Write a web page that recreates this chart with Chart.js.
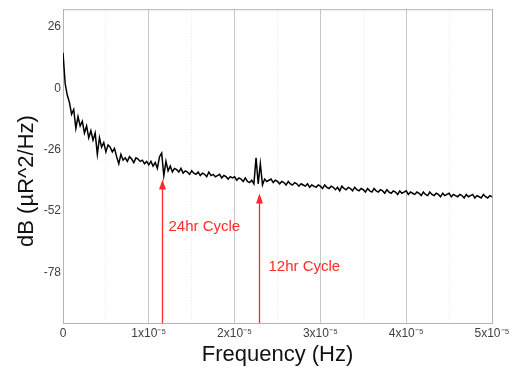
<!DOCTYPE html>
<html>
<head>
<meta charset="utf-8">
<script src="https://cdn.jsdelivr.net/npm/chart.js@4.4.1/dist/chart.umd.min.js"></script>
<style>
  body { margin: 0; background: #fff; }
</style>
</head>
<body>
<canvas id="psd" width="509" height="370"></canvas>
<script>
// spectrum bins, 2.5e-7 Hz apart
const binWidth = 2.5e-7;
const powerDb = [
  15, 2, -3, -6, -11, -9, -17, -12, -16, -14,
  -19, -16, -21, -18, -22, -19, -28, -21, -25, -23,
  -27, -24, -25, -27, -25.5, -29, -32, -28, -30.5, -29.5,
  -31, -29, -30, -31.5, -29.5, -30, -31, -30.5, -32, -31,
  -32.5, -31, -33, -31.5, -34, -29, -27.5, -37, -31, -35,
  -33, -35.5, -34, -34.5, -35.5, -34, -36, -35, -35.5, -36.5,
  -35, -36, -36.5, -35.5, -37, -36, -36.5, -37.5, -35.5, -37,
  -36.5, -37.5, -37, -36.5, -38, -37, -37.5, -38.5, -37.5, -38,
  -37.5, -39, -38, -38.5, -39.5, -38, -39.5, -40, -39, -40.5,
  -29.5, -40.5, -32, -41, -38.5, -39.5, -39, -38.5, -40, -39,
  -39.5, -40.5, -39.5, -40, -41, -39.5, -40.5, -41, -40, -40.5,
  -41.5, -40.5, -41, -41.5, -40.5, -42, -41, -41.5, -42, -41,
  -41.5, -42.5, -41, -42, -42.5, -41.5, -42, -43, -42, -43.5,
  -41.5, -42.5, -43, -42, -42.5, -43.5, -42, -43, -43.5, -42.5,
  -43, -44, -42.5, -43.5, -44, -42.5, -43.5, -44, -43, -43.5,
  -44.5, -43, -44, -44.5, -43.5, -44, -45, -43.5, -44.5, -44,
  -43.5, -45, -44, -44.5, -45, -44, -44.5, -45.5, -44, -45,
  -45.5, -44, -45, -45.5, -44.5, -45, -46, -44.5, -45.5, -45,
  -44.5, -46, -45, -45.5, -46, -45, -45.5, -46.5, -45, -46,
  -45.5, -45, -46.5, -45.5, -46, -46.5, -45, -46, -46.5, -45.5,
  -46
];
const freqHz = powerDb.map((v, i) => i * binWidth);

const xTicks = [0, 0.5e-5, 1e-5, 1.5e-5, 2e-5, 2.5e-5, 3e-5, 3.5e-5, 4e-5, 4.5e-5, 5e-5];
const xTickLabels = ['0', '', '1x10\u207B\u2075', '', '2x10\u207B\u2075', '', '3x10\u207B\u2075', '', '4x10\u207B\u2075', '', '5x10\u207B\u2075'];
const yTicks = [26, 0, -26, -52, -78];

// red arrow markers
const cycleNames = ['24hr Cycle', '12hr Cycle'];
const cycleFreq = [1.155e-5, 2.285e-5];
const cycleTipDb = [-38.7, -44.6];
const cycleTextDb = [-58.6, -75.9];

const red = '#ff2b2b';

const decorations = {
  id: 'decorations',
  beforeDatasetsDraw(chart) {
    const { ctx, chartArea: a } = chart;
    ctx.save();
    ctx.strokeStyle = '#b4b4b4';
    ctx.lineWidth = 1;
    ctx.strokeRect(a.left + 0.5, a.top + 0.5, a.right - a.left, a.bottom - a.top);
    ctx.restore();
  },
  afterDatasetsDraw(chart) {
    const { ctx, chartArea: a, scales: { x, y } } = chart;
    ctx.save();
    // arrows + labels
    ctx.strokeStyle = red;
    ctx.fillStyle = red;
    ctx.lineWidth = 1.3;
    ctx.font = '15px "Liberation Sans", Arial, sans-serif';
    ctx.textBaseline = 'middle';
    ctx.textAlign = 'left';
    cycleNames.forEach((name, i) => {
      const px = Math.round(x.getPixelForValue(cycleFreq[i])) + 0.5;
      const tip = y.getPixelForValue(cycleTipDb[i]);
      ctx.beginPath();
      ctx.moveTo(px, a.bottom);
      ctx.lineTo(px, tip + 8);
      ctx.stroke();
      ctx.beginPath();
      ctx.moveTo(px, tip);
      ctx.lineTo(px - 3.5, tip + 10);
      ctx.lineTo(px + 3.5, tip + 10);
      ctx.closePath();
      ctx.fill();
      ctx.fillText(name, px + (i === 0 ? 6 : 9), y.getPixelForValue(cycleTextDb[i]));
    });
    // axis titles
    ctx.fillStyle = '#111';
    ctx.font = '22px "Liberation Sans", Arial, sans-serif';
    ctx.textAlign = 'center';
    ctx.fillText('Frequency (Hz)', (a.left + a.right) / 2, 355);
    ctx.translate(27, 181);
    ctx.rotate(-Math.PI / 2);
    ctx.fillText('dB (\u00B5R^2/Hz)', 0, 0);
    ctx.restore();
  }
};

new Chart(document.getElementById('psd').getContext('2d'), {
  type: 'line',
  data: {
    datasets: [{
      data: freqHz.map((f, i) => ({ x: f, y: powerDb[i] })),
      borderColor: '#000',
      borderWidth: 1.5,
      pointRadius: 0,
      tension: 0,
      fill: false
    }]
  },
  options: {
    responsive: false,
    devicePixelRatio: 1,
    animation: false,
    layout: { padding: { top: 8, right: 17, left: 0, bottom: 0 } },
    plugins: { legend: { display: false }, tooltip: { enabled: false } },
    scales: {
      x: {
        type: 'linear',
        min: 0,
        max: 5e-5,
        afterBuildTicks: (s) => { s.ticks = xTicks.map(v => ({ value: v })); },
        afterFit: (s) => { s.height = 47; s.paddingLeft = 0; s.paddingRight = 0; },
        ticks: {
          autoSkip: false,
          maxRotation: 0,
          padding: 3,
          color: '#404040',
          font: { family: '"Liberation Sans", Arial, sans-serif', size: 12 },
          callback: (v, i) => xTickLabels[i]
        },
        grid: {
          drawTicks: false,
          color: (c) => (c.index % 2 ? '#e6e6e6' : '#c8c8c8'),
          lineWidth: 1
        },
        border: { display: false, dash: (c) => (c.index % 2 ? [1, 2] : []) }
      },
      y: {
        min: -99.5,
        max: 33.5,
        afterBuildTicks: (s) => { s.ticks = yTicks.map(v => ({ value: v })); },
        afterFit: (s) => { s.width = 63; },
        ticks: {
          padding: 2,
          color: '#404040',
          font: { family: '"Liberation Sans", Arial, sans-serif', size: 12 }
        },
        grid: { display: false, drawTicks: false },
        border: { display: false }
      }
    }
  },
  plugins: [decorations]
});
</script>
</body>
</html>
